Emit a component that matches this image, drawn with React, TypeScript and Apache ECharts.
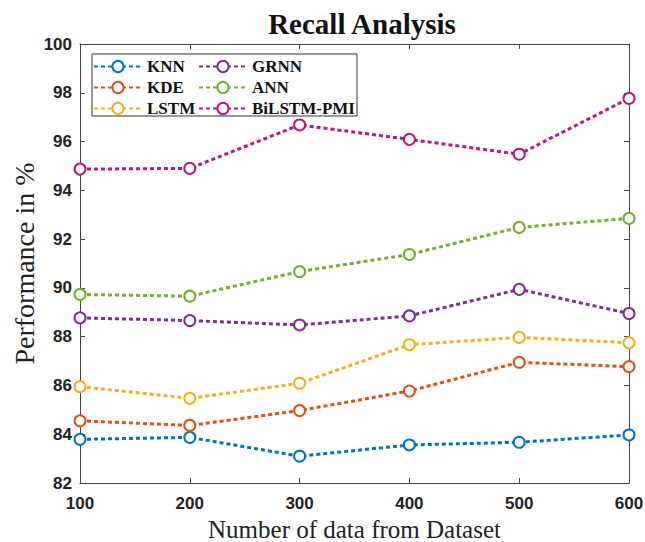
import React, { useEffect, useRef } from "react";
import * as echarts from "echarts";

const xValues = [100, 200, 300, 400, 500, 600];
const seriesNames = ["KNN", "KDE", "LSTM", "GRNN", "ANN", "BiLSTM-PMI"];
const knn = [83.79, 83.87, 83.1, 83.56, 83.67, 83.97];
const kde = [84.55, 84.36, 84.97, 85.77, 86.95, 86.77];
const lstm = [85.95, 85.47, 86.09, 87.67, 87.97, 87.75];
const grnn = [88.77, 88.66, 88.48, 88.85, 89.94, 88.95];
const ann = [89.73, 89.66, 90.67, 91.37, 92.48, 92.85];
const bilstm = [94.87, 94.9, 96.68, 96.09, 95.48, 97.77];
const colors = ["#0072BD", "#D95319", "#EDB120", "#7E2F8E", "#77AC30", "#B3197F"];
const yTicks = { min: 82, max: 100, interval: 2 };
const xTicks = { min: 100, max: 600, interval: 100 };

export default function App() {
  const ref = useRef<HTMLDivElement>(null);
  useEffect(() => {
    if (!ref.current) return;
    const chart = echarts.init(ref.current, null, { renderer: "svg" });
    const all = [knn, kde, lstm, grnn, ann, bilstm];
    const series = all.map((vals, i) => ({
      name: seriesNames[i],
      type: "line",
      data: vals.map((v, j) => [xValues[j], v]),
      symbol: "emptyCircle",
      symbolSize: 11,
      showSymbol: true,
      lineStyle: { color: colors[i], width: 3, type: [4, 3] },
      itemStyle: { color: colors[i], borderColor: colors[i], borderWidth: 2.5 },
      xAxisIndex: 0,
      yAxisIndex: 0,
      z: 2,
    }));
    const tickLabel = {
      fontFamily: "Liberation Sans, Arial, sans-serif",
      fontWeight: "bold",
      fontSize: 17,
      color: "#222",
    };
    const axisLine = { show: true, lineStyle: { color: "#444", width: 1 } };
    const axisTick = { show: true, inside: true, length: 5, lineStyle: { color: "#444" } };
    const legendCommon = {
      orient: "vertical",
      itemWidth: 48,
      itemHeight: 14,
      itemGap: 4,
      padding: 0,
      z: 5,
      textStyle: {
        fontFamily: "Liberation Serif, Times New Roman, serif",
        fontWeight: "bold",
        fontSize: 17,
        color: "#111",
      },
    };
    chart.setOption({
      animation: false,
      backgroundColor: "#fff",
      title: {
        text: "Recall Analysis",
        left: 357,
        textAlign: "center",
        top: 4,
        textStyle: {
          fontFamily: "Liberation Serif, Times New Roman, serif",
          fontWeight: "bold",
          fontSize: 29,
          color: "#111",
        },
      },
      grid: {
        left: 80,
        right: 16,
        top: 44,
        bottom: 59,
        containLabel: false,
        outerBoundsMode: "none",
      },
      legend: [
        { ...legendCommon, left: 93, top: 58, data: seriesNames.slice(0, 3) },
        { ...legendCommon, left: 198, top: 58, data: seriesNames.slice(3) },
      ],
      xAxis: [
        {
          type: "value",
          ...xTicks,
          position: "bottom",
          axisLine,
          axisTick,
          splitLine: { show: false },
          axisLabel: { ...tickLabel, margin: 12 },
          name: "Number of data from Dataset",
          nameLocation: "middle",
          nameGap: 29,
          nameTextStyle: {
            fontFamily: "Liberation Serif, Times New Roman, serif",
            fontSize: 25,
            color: "#222",
          },
        },
        {
          type: "value",
          ...xTicks,
          position: "top",
          axisLine,
          axisTick,
          splitLine: { show: false },
          axisLabel: { show: false },
        },
      ],
      yAxis: [
        {
          type: "value",
          ...yTicks,
          position: "left",
          axisLine,
          axisTick,
          splitLine: { show: false },
          axisLabel: { ...tickLabel, margin: 8 },
          name: "Performance in %",
          nameLocation: "middle",
          nameGap: 42,
          nameMoveOverlap: false,
          nameTextStyle: {
            fontFamily: "Liberation Serif, Times New Roman, serif",
            fontSize: 28,
            color: "#222",
          },
        },
        {
          type: "value",
          ...yTicks,
          position: "right",
          axisLine,
          axisTick,
          splitLine: { show: false },
          axisLabel: { show: false },
        },
      ],
      graphic: [
        {
          type: "rect",
          shape: { x: 92, y: 54, width: 265, height: 62 },
          style: { fill: "#fff", stroke: "#333", lineWidth: 1 },
          z: 3,
          silent: true,
        },
      ],
      series,
    });
    return () => chart.dispose();
  }, []);
  return (
    <div
      ref={ref}
      style={{ position: "fixed", left: 0, top: 0, width: 645, height: 542 }}
    />
  );
}
